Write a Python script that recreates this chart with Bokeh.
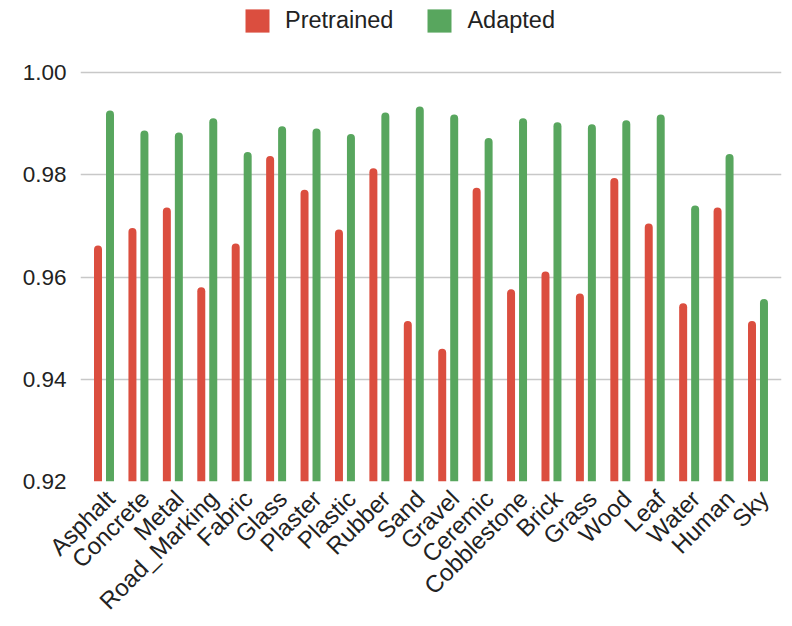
import math
from bokeh.plotting import figure
from bokeh.models import (Range1d, FixedTicker, NumeralTickFormatter,
                          Legend, LegendItem, ColumnDataSource, LinearAxis, LinearScale)
from bokeh.transform import dodge
from bokeh.embed import file_html
from bokeh.resources import INLINE

categories = ["Asphalt", "Concrete", "Metal", "Road_Marking", "Fabric", "Glass",
              "Plaster", "Plastic", "Rubber", "Sand", "Gravel", "Ceremic",
              "Cobblestone", "Brick", "Grass", "Wood", "Leaf", "Water", "Human", "Sky"]
pretrained = [0.9662, 0.9696, 0.9736, 0.9580, 0.9666, 0.9837, 0.9771, 0.9693, 0.9813, 0.9514,
              0.9460, 0.9775, 0.9576, 0.9611, 0.9568, 0.9794, 0.9705, 0.9549, 0.9736, 0.9514]
adapted = [0.9926, 0.9887, 0.9883, 0.9911, 0.9845, 0.9895, 0.9891, 0.9880, 0.9922, 0.9934,
           0.9918, 0.9872, 0.9911, 0.9903, 0.9899, 0.9907, 0.9918, 0.9740, 0.9841, 0.9557]
series_names = ["Pretrained", "Adapted"]
y_ticks = [0.92, 0.94, 0.96, 0.98, 1.00]
y_min, y_max = 0.92, 1.00

RED = "#db4e3f"
GREEN = "#58a65e"
TEXT = "#222222"
FONT = "Liberation Sans"

n = len(categories)
src = ColumnDataSource(dict(cat=categories, pos=[i + 0.5 for i in range(n)],
                            pre=pretrained, ada=adapted, base=[y_min] * n))

# frame spans from the top of the figure so the legend sits inside it;
# 1.00 lies 72.7px below the top, 0.92 at 484.3px
frame_h = 484.3
y_end = y_min + frame_h / (484.3 - 72.7) * (y_max - y_min)

pad = 0.183
p = figure(width=792, height=626, output_backend="svg", toolbar_location=None,
           x_range=Range1d(-pad, n + pad), y_range=Range1d(y_min, y_end),
           min_border_left=80, min_border_right=11, min_border_top=0, min_border_bottom=142)
p.outline_line_color = None
p.background_fill_color = "white"
p.border_fill_color = "white"

w = 0.232
r1 = p.vbar(x=dodge("pos", -0.174), top="pre", bottom="base", width=w,
            source=src, fill_color=RED, line_color=None, border_radius=(4, 4, 0, 0))
r2 = p.vbar(x=dodge("pos", 0.174), top="ada", bottom="base", width=w,
            source=src, fill_color=GREEN, line_color=None, border_radius=(4, 4, 0, 0))

p.xgrid.grid_line_color = None
p.ygrid.grid_line_color = "#c8c8c8"
p.ygrid.grid_line_width = 1.6
p.yaxis.ticker = FixedTicker(ticks=y_ticks)
p.yaxis.formatter = NumeralTickFormatter(format="0.00")
p.xaxis[0].visible = False

# category labels: an axis on a range offset slightly to the right of the bar groups
shift = 0.189
p.extra_x_ranges = {"labels": Range1d(-pad - 0.5 - shift, n + pad - 0.5 - shift)}
p.extra_x_scales = {"labels": LinearScale()}
lab_axis = LinearAxis(x_range_name="labels",
                      ticker=FixedTicker(ticks=list(range(n))),
                      major_label_overrides={i: c for i, c in enumerate(categories)})
p.add_layout(lab_axis, "below")

for ax in (lab_axis, p.yaxis[0]):
    ax.axis_line_color = None
    ax.major_tick_line_color = None
    ax.minor_tick_line_color = None
    ax.major_tick_out = 0
    ax.major_tick_in = 0
    ax.minor_tick_out = 0
    ax.minor_tick_in = 0
    ax.major_label_text_font = FONT
    ax.major_label_text_color = TEXT

p.yaxis.major_label_text_font_size = "22.5px"
p.yaxis.major_label_standoff = 14
lab_axis.major_label_text_font_size = "24px"
lab_axis.major_label_orientation = math.pi / 4
lab_axis.major_label_standoff = 13

legend = Legend(items=[LegendItem(label=series_names[0], renderers=[r1]),
                       LegendItem(label=series_names[1], renderers=[r2])],
                orientation="horizontal", location=(162, 446.3),
                glyph_width=30, glyph_height=29, label_standoff=13, spacing=31,
                padding=0, margin=0, border_line_color=None, background_fill_alpha=0,
                label_text_font=FONT, label_text_font_size="23.5px",
                label_text_color=TEXT, label_height=29)
p.add_layout(legend)

open("out.html", "w").write(file_html(p, INLINE))
